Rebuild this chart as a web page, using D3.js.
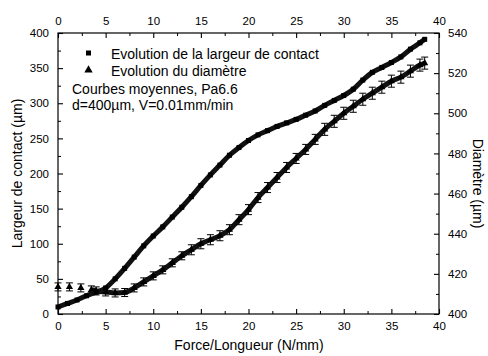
<!DOCTYPE html>
<html><head><meta charset="utf-8">
<script src="https://cdn.jsdelivr.net/npm/d3@7"></script>
<style>body{margin:0;background:#fff}svg{display:block;font-family:"Liberation Sans",Arial,sans-serif}</style>
</head><body><svg id="c" width="488" height="356"></svg>
<script>
// Contact width (left axis, µm) — squares
const forceW = [0,1,2,3,4,5,6,7,8,9,10,11,12,13,14,15,16,17,18,19,20,21,22,23,24,25,26,27,28,29,30,31,32,33,34,35,36,37,38,38.5];
const largeur = [10,15,20,26,31,37,50,65,81,97,111,124,138,152,167,183,198,212,226,237,247,255,261,267,272,277,283,289,297,304,311,320,333,344,351,358,366,377,386,391];
const largeurErr = [2,2,2,2,2,2,2,2,2,2,2,2,2,2,2,2,2,2,2,2,2,2,2,2,2,2,2,2,2,2,2,2,2,2,2,2,2,2,2,2];
// Diameter (right axis, µm) — triangles
const forceD = [0,1.2,2.4,3.5,4,5,6,7,8,9,10,11,12,13,14,15,16,17,18,19,20,21,22,23,24,25,26,27,28,29,30,31,32,33,34,35,36,37,38,38.5];
const diametre = [413.5,413.5,413,412,411.5,411,410.5,410.7,413,416,419,422,425.5,429,432,435,437,439,442,447,452,458,463,468,473,477.5,482,487,492,496,500,503.5,507,510,513,516,518,521,524,525];
const diametreErr = [2,2,2,2,2,2,2,2,2,2,2,2,2,2,2.5,2.5,2.5,2.5,2.5,2.5,2.5,2.5,2.5,2.5,2.5,2.5,2.5,2.5,3,3,3,3,3,3,3,3,3,3,3,3];
const xTicks = [0,5,10,15,20,25,30,35,40];
const yLeftTicks = [0,50,100,150,200,250,300,350,400];
const yRightTicks = [400,420,440,460,480,500,520,540];
const legendLabels = ["Evolution de la largeur de contact","Evolution du diamètre"];
const noteLines = ["Courbes moyennes, Pa6.6","d=400µm, V=0.01mm/min"];

const svg = d3.select("#c");
const L=58, R=439, T=33, B=314;
const x = d3.scaleLinear().domain([0,40]).range([L,R]);
const yL = d3.scaleLinear().domain([0,400]).range([B,T]);
const yR = d3.scaleLinear().domain([400,540]).range([B,T]);

svg.append("rect").attr("x",L).attr("y",T).attr("width",R-L).attr("height",B-T)
  .attr("fill","none").attr("stroke","#000").attr("stroke-width",1.2);

function ticks(axisFn, scale, major, minorStep, tr, pad){
  const a = axisFn(scale).tickValues(major).tickSizeInner(-5).tickSizeOuter(0).tickPadding(pad);
  const g = svg.append("g").attr("transform",tr).call(a);
  g.select(".domain").remove();
  g.selectAll("text").attr("font-size",11.5).attr("fill","#000").style("font-family","'Liberation Sans',Arial,sans-serif");
  const d=scale.domain(); const mn=[];
  for(let v=d[0]; v<=d[1]+1e-9; v+=minorStep) if(!major.some(m=>Math.abs(m-v)<1e-9)) mn.push(v);
  const a2 = axisFn(scale).tickValues(mn).tickSizeInner(-3).tickSizeOuter(0).tickFormat("");
  const g2 = svg.append("g").attr("transform",tr).call(a2);
  g2.select(".domain").remove();
  g.selectAll("line").attr("stroke-width",1.1);
  return g;
}
ticks(d3.axisBottom, x, xTicks, 2.5, `translate(0,${B})`, 8);
ticks(d3.axisTop, x, xTicks, 2.5, `translate(0,${T})`, 8);
ticks(d3.axisLeft, yL, yLeftTicks, 25, `translate(${L},0)`, 9);
ticks(d3.axisRight, yR, yRightTicks, 10, `translate(${R},0)`, 9);

svg.append("text").attr("x",249).attr("y",350).attr("text-anchor","middle").attr("font-size",14).text("Force/Longueur (N/mm)");
svg.append("text").attr("transform",`translate(22,${(T+B)/2}) rotate(-90)`).attr("text-anchor","middle").attr("font-size",14).text("Largeur de contact (µm)");
svg.append("text").attr("transform",`translate(473,${(T+B)/2 + 10}) rotate(90)`).attr("text-anchor","middle").attr("font-size",14).text("Diamètre (µm)");

const plot = svg.append("g");
const dPts = forceD.map((f,i)=>({f, v:diametre[i], e:diametreErr[i]}));
const denseD = dPts.filter(p=>p.f>=3.5);
plot.append("path").datum(denseD).attr("fill","none").attr("stroke","#111").attr("stroke-width",5)
  .attr("d", d3.line().curve(d3.curveMonotoneX).x(p=>x(p.f)).y(p=>yR(p.v)));
const eb = plot.selectAll(".ebd").data(dPts).enter().append("g");
eb.append("line").attr("x1",p=>x(p.f)).attr("x2",p=>x(p.f)).attr("y1",p=>yR(p.v-p.e)).attr("y2",p=>yR(p.v+p.e)).attr("stroke","#000");
eb.append("line").attr("x1",p=>x(p.f)-3.5).attr("x2",p=>x(p.f)+3.5).attr("y1",p=>yR(p.v-p.e)).attr("y2",p=>yR(p.v-p.e)).attr("stroke","#000");
eb.append("line").attr("x1",p=>x(p.f)-3.5).attr("x2",p=>x(p.f)+3.5).attr("y1",p=>yR(p.v+p.e)).attr("y2",p=>yR(p.v+p.e)).attr("stroke","#000");
plot.selectAll(".tri").data(dPts).enter().append("path")
  .attr("transform",p=>`translate(${x(p.f)},${yR(p.v)})`)
  .attr("d", d3.symbol(d3.symbolTriangle, 22)).attr("fill","#000");

const wPts = forceW.map((f,i)=>({f, v:largeur[i], e:largeurErr[i]}));
plot.append("path").datum(wPts).attr("fill","none").attr("stroke","#111").attr("stroke-width",5)
  .attr("d", d3.line().curve(d3.curveMonotoneX).x(p=>x(p.f)).y(p=>yL(p.v)));
plot.selectAll(".ebw").data(wPts).enter().append("line")
  .attr("x1",p=>x(p.f)).attr("x2",p=>x(p.f)).attr("y1",p=>yL(p.v-p.e)-2).attr("y2",p=>yL(p.v+p.e)+2).attr("stroke","#777");
plot.selectAll(".sq").data(wPts).enter().append("rect")
  .attr("x",p=>x(p.f)-2.5).attr("y",p=>yL(p.v)-2.5).attr("width",5).attr("height",5).attr("fill","#000");

svg.append("rect").attr("x",86).attr("y",50.5).attr("width",5).attr("height",5).attr("fill","#000");
svg.append("path").attr("transform","translate(88.5,70)").attr("d",d3.symbol(d3.symbolTriangle,30)).attr("fill","#000");
svg.append("text").attr("x",111).attr("y",59).attr("font-size",14).text(legendLabels[0]);
svg.append("text").attr("x",111).attr("y",75.5).attr("font-size",14).text(legendLabels[1]);
svg.append("text").attr("x",72).attr("y",93.5).attr("font-size",14).text(noteLines[0]);
svg.append("text").attr("x",72).attr("y",110).attr("font-size",14).text(noteLines[1]);
</script></body></html>
